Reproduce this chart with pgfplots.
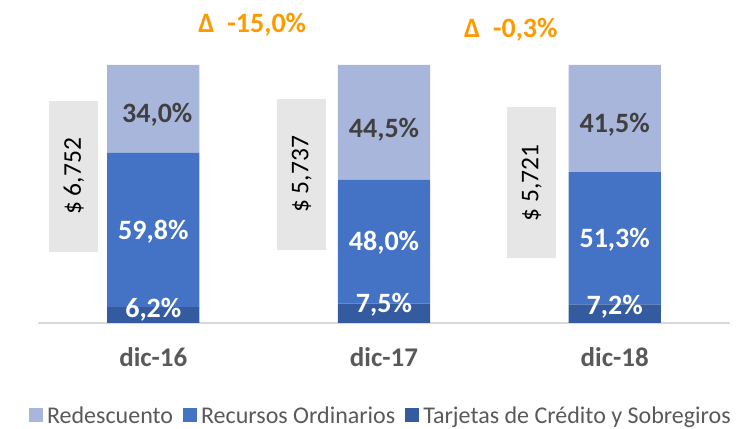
\documentclass[border=0pt]{standalone}
\usepackage{pgfplots}
\pgfplotsset{compat=1.18}
\usepackage{fontspec}
\setmainfont{Carlito}

\definecolor{redesc}{HTML}{A9B6DC}
\definecolor{recurs}{HTML}{4472C4}
\definecolor{tarjet}{HTML}{345B9F}
\definecolor{boxgray}{HTML}{E6E6E6}
\definecolor{deltaor}{HTML}{FF9900}
\definecolor{txtgray}{HTML}{595959}
\definecolor{lblgray}{HTML}{404040}

\newcommand{\lbl}{\fontsize{28}{30}\selectfont\bfseries}
\newcommand{\amt}{\fontsize{25.5}{28}\selectfont}

\pgfplotsset{
  sq legend/.style={legend image code/.code={\fill[##1] (0pt,-6pt) rectangle (14pt,8pt);}},
}

\begin{document}
\begin{tikzpicture}[x=1pt,y=1pt]
\begin{axis}[
    at={(38pt,105pt)}, anchor=south west,
    scale only axis,
    width=692pt, height=258pt,
    ybar stacked,
    bar width=0.4,
    xmin=-0.5, xmax=2.5,
    ymin=0, ymax=100,
    xtick={0,1,2},
    xticklabels={dic-16, dic-17, dic-18},
    major tick length=0pt,
    xticklabel style={font=\fontsize{27}{29}\selectfont\bfseries, text=txtgray, yshift=-21pt},
    ytick=\empty,
    axis x line=bottom,
    axis y line=none,
    x axis line style={-, draw=black!15, line width=1.3pt},
    clip=false,
    reverse legend,
    legend columns=3,
    legend style={
        at={(0.497,-0.36)}, anchor=center,
        draw=none, fill=none,
        font=\fontsize{24}{26}\selectfont, text=txtgray,
        nodes={inner xsep=4pt},
        /tikz/every even column/.append style={column sep=6pt},
    },
]
\addplot+[fill=tarjet, draw=none, sq legend] coordinates {(0,6.2) (1,7.5) (2,7.2)};
\addplot+[fill=recurs, draw=none, sq legend] coordinates {(0,59.8) (1,48.0) (2,51.3)};
\addplot+[fill=redesc, draw=none, sq legend] coordinates {(0,34.0) (1,44.5) (2,41.5)};
\legend{Tarjetas de Crédito y Sobregiros, Recursos Ordinarios, Redescuento}

% label anchors, drawn after the axis so they sit above the bars
\coordinate (a1) at (axis cs:0.017,80.6);
\coordinate (b1) at (axis cs:0,35.3);
\coordinate (c1) at (axis cs:0,5.0);
\coordinate (a2) at (axis cs:1,74.8);
\coordinate (b2) at (axis cs:1,31.0);
\coordinate (c2) at (axis cs:1,7.0);
\coordinate (a3) at (axis cs:2,76.7);
\coordinate (b3) at (axis cs:2,32.2);
\coordinate (c3) at (axis cs:2,6.2);
\coordinate (m1) at (axis cs:-0.344,56.8);
\coordinate (m2) at (axis cs:0.643,57.6);
\coordinate (m3) at (axis cs:1.640,54.3);
\coordinate (d1) at (axis cs:0.429,115.5);
\coordinate (d2) at (axis cs:1.550,113.6);
\end{axis}

% segment labels
\node[text=lblgray, font=\lbl] at (a1) {34,0\%};
\node[text=white, font=\lbl] at (b1) {59,8\%};
\node[text=white, font=\lbl] at (c1) {6,2\%};
\node[text=lblgray, font=\lbl] at (a2) {44,5\%};
\node[text=white, font=\lbl] at (b2) {48,0\%};
\node[text=white, font=\lbl] at (c2) {7,5\%};
\node[text=lblgray, font=\lbl] at (a3) {41,5\%};
\node[text=white, font=\lbl] at (b3) {51,3\%};
\node[text=white, font=\lbl] at (c3) {7,2\%};

% amount boxes
\tikzset{amtbox/.style={fill=boxgray, rotate=90, minimum width=151pt, minimum height=49pt, inner sep=0pt, font=\amt}}
\node[amtbox] at (m1) {\$ 6,752};
\node[amtbox] at (m2) {\$ 5,737};
\node[amtbox] at (m3) {\$ 5,721};

% variation labels
\node[text=deltaor, font=\lbl] at (d1) {Δ\ \ -15,0\%};
\node[text=deltaor, font=\lbl] at (d2) {Δ\ \ -0,3\%};

\pgfresetboundingbox
\path[use as bounding box] (0,0) rectangle (738,428);
\end{tikzpicture}
\end{document}
